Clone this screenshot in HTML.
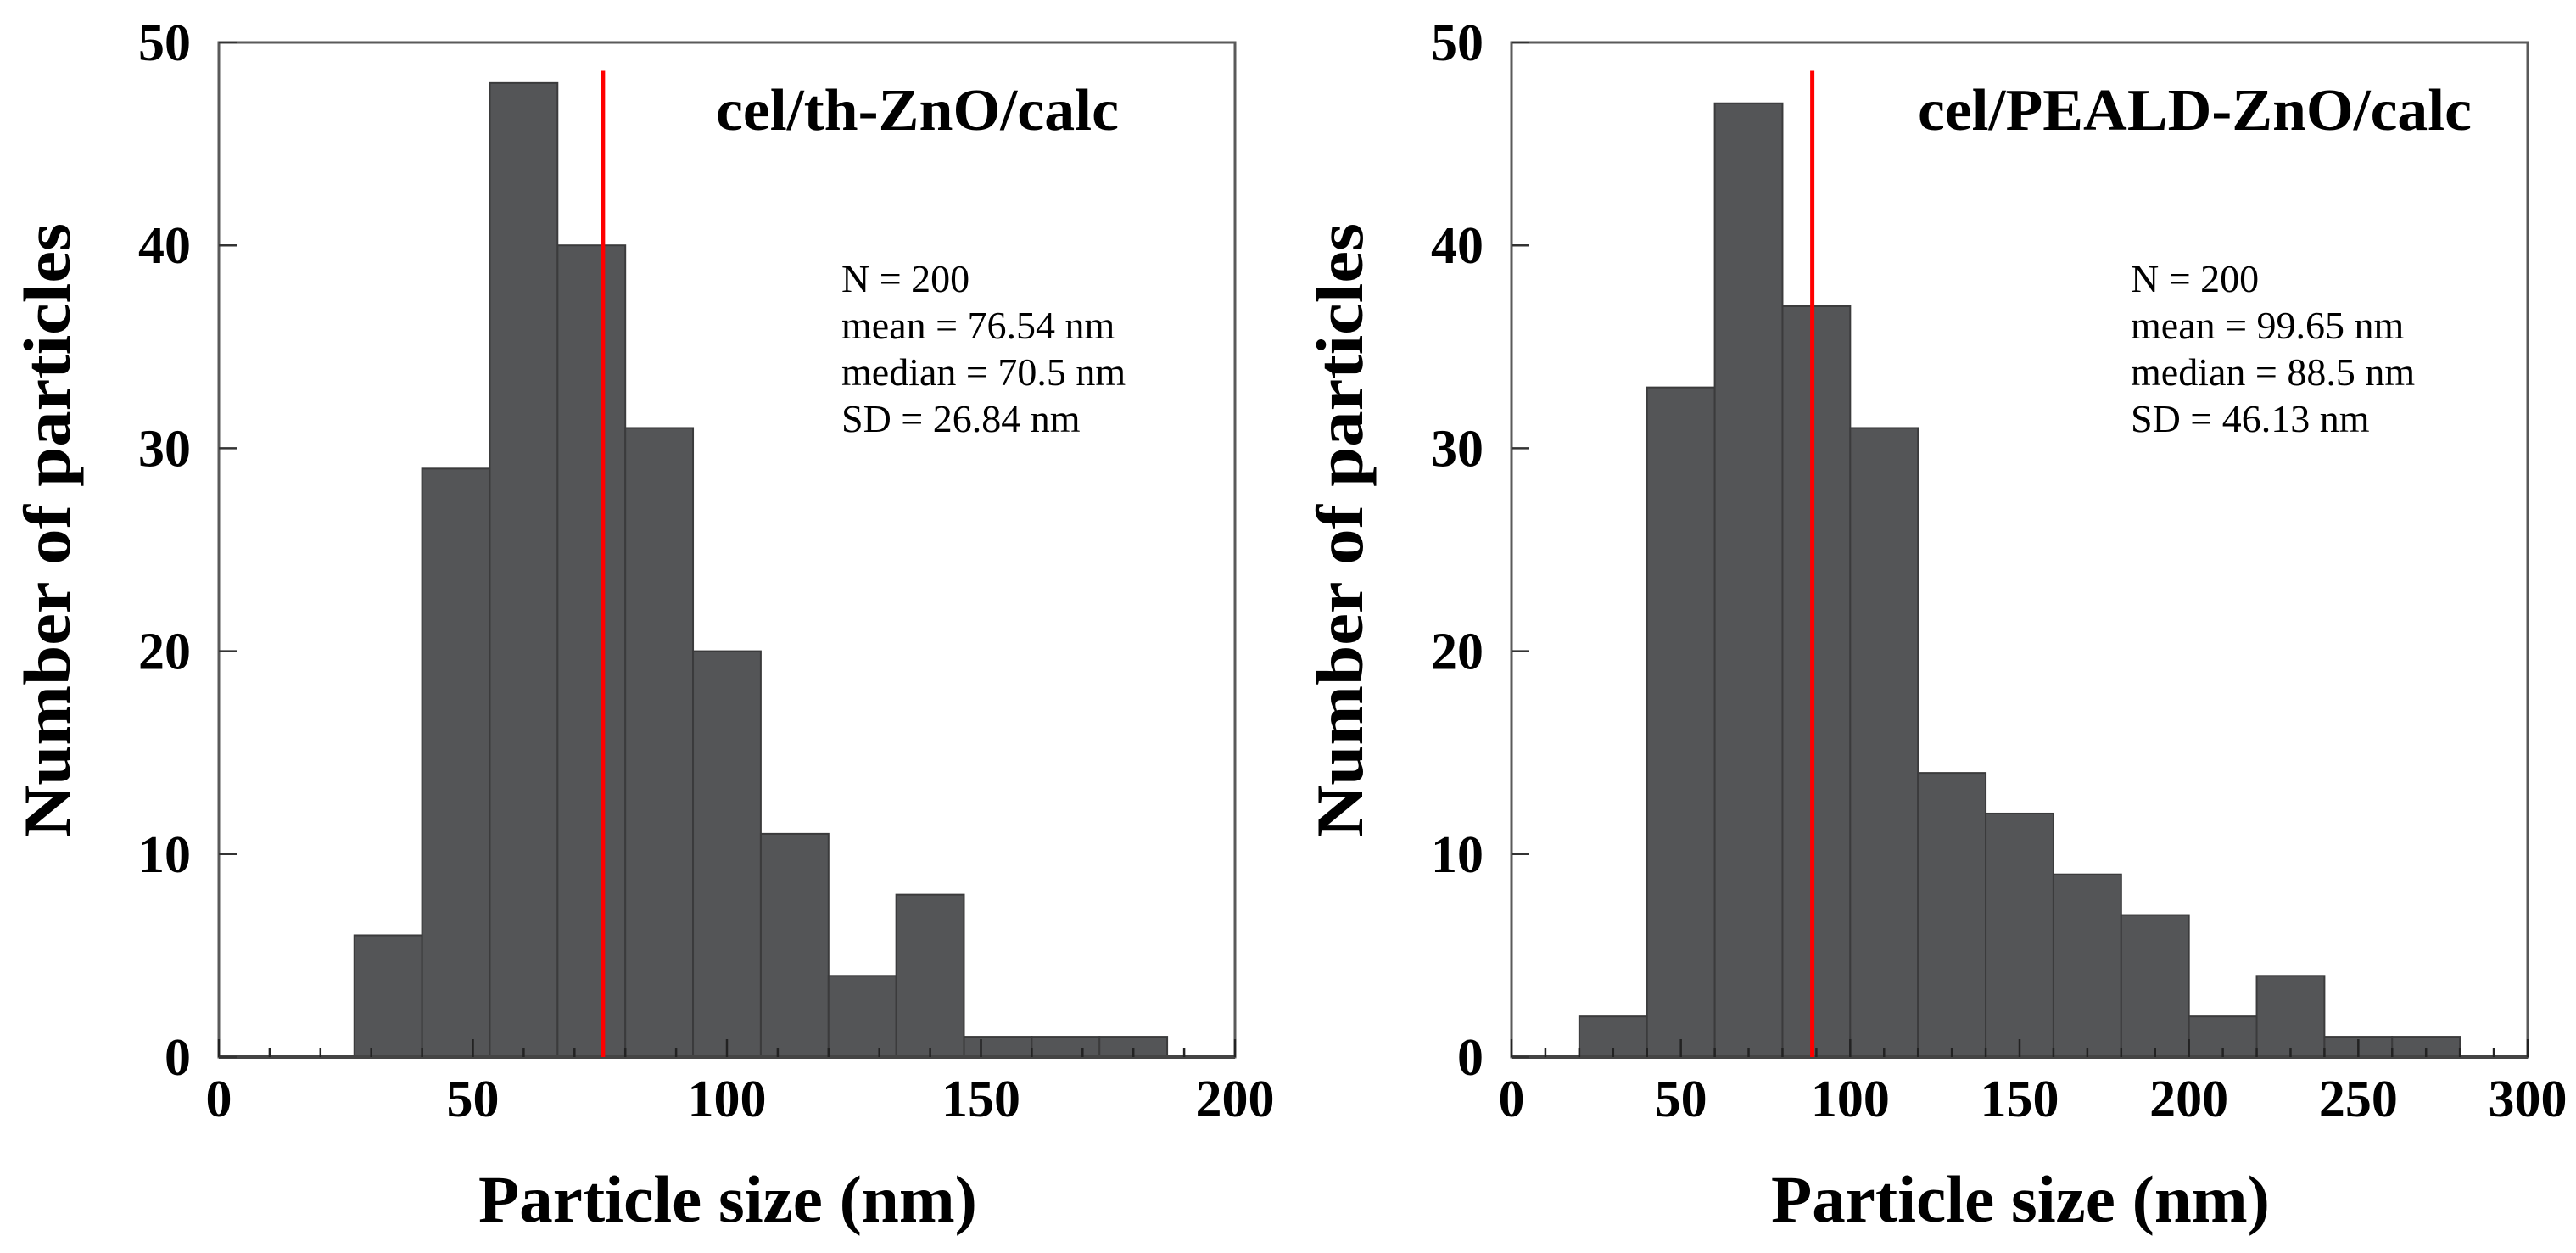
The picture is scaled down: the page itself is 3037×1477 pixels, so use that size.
<!DOCTYPE html>
<html><head><meta charset="utf-8"><style>
html,body{margin:0;padding:0;background:#fff;}
svg{display:block;}
text{font-family:"Liberation Serif","Times New Roman",serif;fill:#000;}
</style></head>
<body>
<svg id="chart" width="3037" height="1477" viewBox="0 0 3037 1477" xmlns="http://www.w3.org/2000/svg"></svg>
<script>
// Left panel data
const leftBinStart = [26.67,40,53.33,66.67,80,93.33,106.67,120,133.33,146.67,160,173.33];
const leftBinWidth = 13.33;
const leftCounts = [6,29,48,40,31,20,11,4,8,1,1,1];
const leftXTicks = [0,50,100,150,200];
const leftMean = 75.6;
const leftTitle = "cel/th-ZnO/calc";
const leftStats = ["N = 200","mean = 76.54 nm","median = 70.5 nm","SD = 26.84 nm"];
// Right panel data
const rightBinStart = [20,40,60,80,100,120,140,160,180,200,220,240,260];
const rightBinWidth = 20;
const rightCounts = [2,33,47,37,31,14,12,9,7,2,4,1,1];
const rightXTicks = [0,50,100,150,200,250,300];
const rightMean = 88.8;
const rightTitle = "cel/PEALD-ZnO/calc";
const rightStats = ["N = 200","mean = 99.65 nm","median = 88.5 nm","SD = 46.13 nm"];
// shared
const yTicks = [0,10,20,30,40,50];
const redTop = 48.6;

const NS="http://www.w3.org/2000/svg";
const svg=document.getElementById('chart');
function mk(tag,attrs,parent){const e=document.createElementNS(NS,tag);for(const k in attrs)e.setAttribute(k,attrs[k]);(parent||svg).appendChild(e);return e;}

function panel(p){
  const L=p.left,R=p.left+1198,T=50,B=1246;
  const xs=v=>L+(v-p.xmin)/(p.xmax-p.xmin)*(R-L);
  const ys=v=>B-(v/50)*(B-T);
  const g=mk('g',{});
  
  
  for(let i=0;i<p.counts.length;i++){
    const x0=xs(p.starts[i]),x1=xs(p.starts[i]+p.width),y=ys(p.counts[i]);
    const r=mk('rect',{x:x0,y:y,width:x1-x0,height:B-y,fill:'#545557',stroke:'#3b3b3c','stroke-width':2},g);
    
    
  }
  const fr=mk('rect',{x:L,y:T,width:R-L,height:B-T,fill:'none',stroke:'#5a5a5a','stroke-width':3},g);
  
  
  const xa=mk('line',{x1:L,x2:R,y1:B,y2:B,stroke:'#444','stroke-width':4},g);
  
  
  for(let v=p.xmin;v<=p.xmax;v+=10){
    const major=(v%50===0);
    const t=mk('line',{x1:xs(v),x2:xs(v),y1:B,y2:B-(major?21:11),stroke:'#222','stroke-width':2.5},g);
    
    
  }
  p.xticks.forEach(v=>{
    const t=mk('text',{x:xs(v),y:1316,'text-anchor':'middle','font-size':62,'font-weight':'bold'},g);
    t.textContent=v;
    
    
  });
  yTicks.forEach(v=>{
    const t=mk('line',{x1:L,x2:L+21,y1:ys(v),y2:ys(v),stroke:'#333','stroke-width':2.5},g);
    
    
    const l=mk('text',{x:L-33,y:ys(v)+21,'text-anchor':'end','font-size':62,'font-weight':'bold'},g);
    l.textContent=v;
    
    
  });
  const m=mk('line',{x1:xs(p.mean),x2:xs(p.mean),y1:ys(redTop),y2:B,stroke:'#ff0000','stroke-width':5},g);
  
  
  const xt=mk('text',{x:L+600,y:1440,'text-anchor':'middle','font-size':78,'font-weight':'bold',textLength:588,lengthAdjust:'spacingAndGlyphs'},g);
  xt.textContent='Particle size (nm)';
  
  
  const yx=L-176;
  const yt=mk('text',{x:yx,y:625,transform:`rotate(-90 ${yx} 625)`,'text-anchor':'middle','font-size':78,'font-weight':'bold',textLength:724,lengthAdjust:'spacingAndGlyphs'},g);
  yt.textContent='Number of particles';
  
  
  const st=mk('text',{x:p.titleX,y:153,'font-size':70,'font-weight':'bold',textLength:p.titleW,lengthAdjust:'spacingAndGlyphs'},g);
  st.textContent=p.title;
  
  
  p.stats.forEach((s,i)=>{
    const t=mk('text',{x:p.statsX,y:344+i*55,'font-size':46},g);
    t.textContent=s;
    
    
  });
}
panel({name:'left',left:258,xmin:0,xmax:200,starts:leftBinStart,width:leftBinWidth,counts:leftCounts,xticks:leftXTicks,mean:leftMean,title:leftTitle,titleX:844,titleW:475,stats:leftStats,statsX:992});
panel({name:'right',left:1782,xmin:0,xmax:300,starts:rightBinStart,width:rightBinWidth,counts:rightCounts,xticks:rightXTicks,mean:rightMean,title:rightTitle,titleX:2261,titleW:653,stats:rightStats,statsX:2512});
</script>
</body></html>
